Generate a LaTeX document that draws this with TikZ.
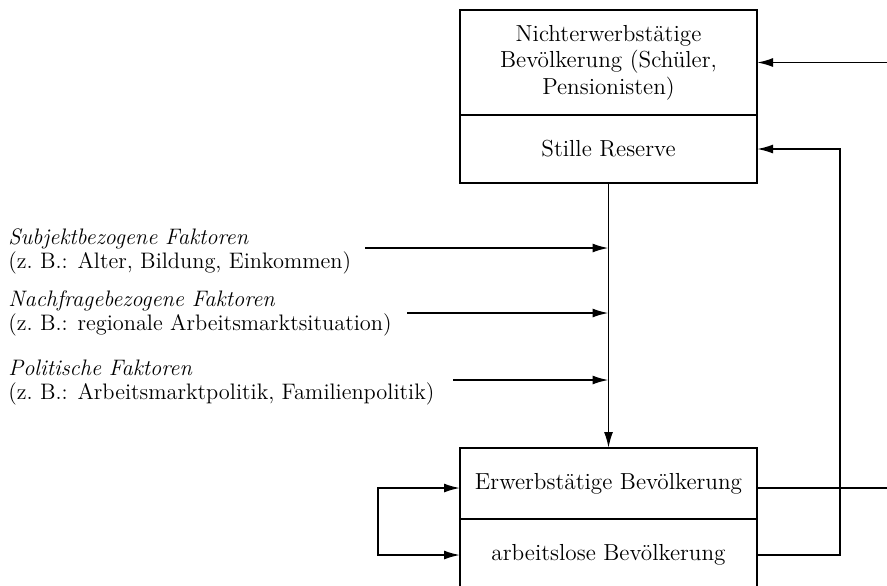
\documentclass[tikz,border=0pt]{standalone}
\usepackage{tikz}
\usetikzlibrary{arrows.meta,positioning,calc}

\begin{document}
\begin{tikzpicture}[
    x=0.5pt, y=-0.5pt,
    box/.style={rectangle, draw=black, line width=0.9pt, minimum width=148.5pt, inner sep=0pt, outer sep=0pt, align=center, font=\fontsize{11.6}{13.25}\selectfont},
    factor/.style={align=left, inner sep=0pt, anchor=base west, font=\fontsize{11.2}{12}\selectfont},
    arr/.style={->, line width=0.9pt, >={Latex[length=8pt,width=4.5pt]}},
    plain/.style={line width=0.9pt}
]
    % page frame
    \useasboundingbox (0,0) rectangle (887,585);
    \clip (0,0) rectangle (887,585);

    % upper block
    \node[box, minimum height=52.5pt] (nonact) at (608.5,62.5) {Nichterwerbstätige\\Bevölkerung (Schüler,\\Pensionisten)};
    \node[box, minimum height=34pt, below=0pt of nonact] (reserve) {Stille Reserve};

    % lower block (runs off the page)
    \node[box, minimum height=35.5pt] (employed) at (608.5,483.5) {Erwerbstätige Bevölkerung};
    \node[box, minimum height=36pt, below=0pt of employed] (unemployed) {arbeitslose Bevölkerung};

    % factors on the left (base = last line)
    \node[factor] (subj) at (8,268) {\textit{Subjektbezogene Faktoren}\\(z.~B.: Alter, Bildung, Einkommen)};
    \node[factor] (demand) at (8,330) {\textit{Nachfragebezogene Faktoren}\\(z.~B.: regionale Arbeitsmarktsituation)};
    \node[factor] (policy) at (8,399) {\textit{Politische Faktoren}\\(z.~B.: Arbeitsmarktpolitik, Familienpolitik)};

    % free ends of the connectors
    \coordinate (subjin) at (365,248);
    \coordinate (demandin) at (407,313);
    \coordinate (policyin) at (453,380);
    \coordinate (rim) at (887,0);
    \coordinate (back) at (840,0);
    \coordinate (loop) at (378,0);

    % Connections
    \draw[arr] (reserve) -- (employed);
    \draw[arr] (subjin) -- (subjin -| reserve.south);
    \draw[arr] (demandin) -- (demandin -| reserve.south);
    \draw[arr] (policyin) -- (policyin -| reserve.south);
    \draw[arr] (nonact.east -| rim) -- (nonact.east);
    \draw[plain] ([yshift=-2.25pt]employed.east) -- ([yshift=-2.25pt]employed.east -| rim);
    \draw[arr] (unemployed.east) -| (back |- reserve.east) -- (reserve.east);
    \draw[arr, <->] ([yshift=-2.25pt]employed.west) -- ([yshift=-2.25pt]employed.west -| loop) |- (unemployed.west);

\end{tikzpicture}
\end{document}
